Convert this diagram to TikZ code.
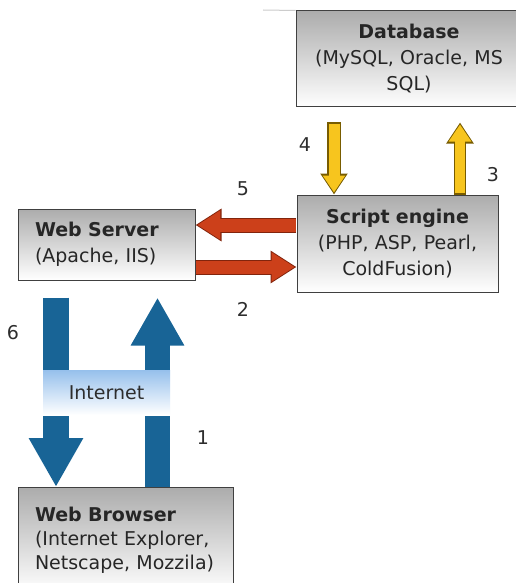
\documentclass[tikz,border=0pt]{standalone}
\usepackage{fontspec}
\setmainfont{DejaVu Sans}
\usetikzlibrary{arrows.meta}

\definecolor{arrowblue}{RGB}{24,100,150}
\definecolor{arrowred}{RGB}{204,64,26}
\definecolor{arrowredrim}{RGB}{130,36,12}
\definecolor{arrowyellow}{RGB}{247,197,30}
\definecolor{arrowyellowrim}{RGB}{120,92,0}
\definecolor{netblue}{RGB}{150,192,236}
\definecolor{numgray}{RGB}{45,45,45}

\tikzset{
  box/.style={draw=black!75, line width=1pt, top color=gray!65, bottom color=white,
    text=black!85, inner sep=0pt, font=\fontsize{19}{26}\selectfont},
  num/.style={text=numgray, font=\fontsize{19}{19}\selectfont},
  bluearrow/.style={draw=arrowblue, line width=25pt, -{Triangle[width=50pt,length=48pt]}},
  redrim/.style={draw=arrowredrim, line width=15pt, -{Triangle[width=31pt,length=26pt]}},
  redbody/.style={draw=arrowred, line width=13pt, -{Triangle[width=27.5pt,length=23pt]},
    shorten >=1.8pt},
  yellowrim/.style={draw=arrowyellowrim, line width=14pt, -{Triangle[width=26pt,length=21pt]}},
  yellowbody/.style={draw=arrowyellow, line width=11pt, -{Triangle[width=21.5pt,length=17pt]},
    shorten >=2pt, shorten <=1.5pt}
}

\begin{document}
\begin{tikzpicture}[x=1pt, y=-1pt]
    \useasboundingbox (0,0) rectangle (516,583);
    \clip (0,0) rectangle (516,583);
    \fill[white] (0,0) rectangle (516,583);

    \node[box, minimum width=177pt, minimum height=71pt, text width=143pt, align=left]
        (server) at (106.5,244.5) {\textbf{Web Server}\\(Apache, IIS)};
    \node[box, minimum width=201pt, minimum height=97pt, text width=190pt, align=center]
        (script) at (397.5,243.5) {\textbf{Script engine}\\(PHP, ASP, Pearl,\\ColdFusion)};
    \node[box, minimum width=226pt, minimum height=96pt, text width=210pt, align=center]
        (db) at (409,59) {\textbf{Database}\\(MySQL, Oracle, MS\\SQL)};
    \node[box, anchor=north, minimum width=215pt, minimum height=105pt, text width=181pt,
        align=left, font=\fontsize{19}{24}\selectfont]
        (browser) at (125.5,487) {\textbf{Web Browser}\\(Internet Explorer,\\Netscape, Mozzila)};

    \coordinate (rule) at (263,10);
    \draw[gray!40, line width=1pt] (rule) -- (db.north west);

    \coordinate (s5) at ([yshift=18.5pt]script.west);
    \coordinate (s2) at ([yshift=-23.5pt]script.west);
    \draw[redrim] ([xshift=-0.5pt]s5) -- (s5 -| server.east);
    \draw[redbody] ([xshift=-0.5pt]s5) -- (s5 -| server.east);
    \draw[redrim] ([xshift=0.5pt]s2 -| server.east) -- (s2);
    \draw[redbody] ([xshift=0.5pt]s2 -| server.east) -- (s2);

    \coordinate (dbgap) at ([yshift=-15pt]db.south);
    \coordinate (y4) at ([xshift=-63.5pt]script.north);
    \coordinate (y3) at ([xshift=62.5pt]script.north);
    \draw[yellowrim] (y4 |- dbgap) -- (y4);
    \draw[yellowbody] (y4 |- dbgap) -- (y4);
    \draw[yellowrim, line width=12.5pt] (y3) -- (y3 |- dbgap);
    \draw[yellowbody, line width=9.5pt] (y3) -- (y3 |- dbgap);

    \coordinate (b6) at ([xshift=-50.5pt,yshift=-17pt]server.south);
    \coordinate (b1) at ([xshift=51pt,yshift=-17pt]server.south);
    \draw[bluearrow, line width=26pt, -{Triangle[width=51pt,length=49pt]}] (b6) -- (b6 |- browser.north);
    \draw[bluearrow] (b1 |- browser.north) -- (b1);

    \node[top color=netblue, middle color=netblue!45, bottom color=white, minimum width=127pt,
        minimum height=45pt, inner sep=0pt, font=\fontsize{19}{19}\selectfont, text=numgray]
        (inet) at (106.5,392.5) {Internet};

    \node[num] (n1) at (203,438) {1};
    \node[num] (n2) at (243,309) {2};
    \node[num] (n3) at (493,175) {3};
    \node[num] (n4) at (305,145) {4};
    \node[num] (n5) at (243,189) {5};
    \node[num] (n6) at (13,333) {6};
\end{tikzpicture}
\end{document}
